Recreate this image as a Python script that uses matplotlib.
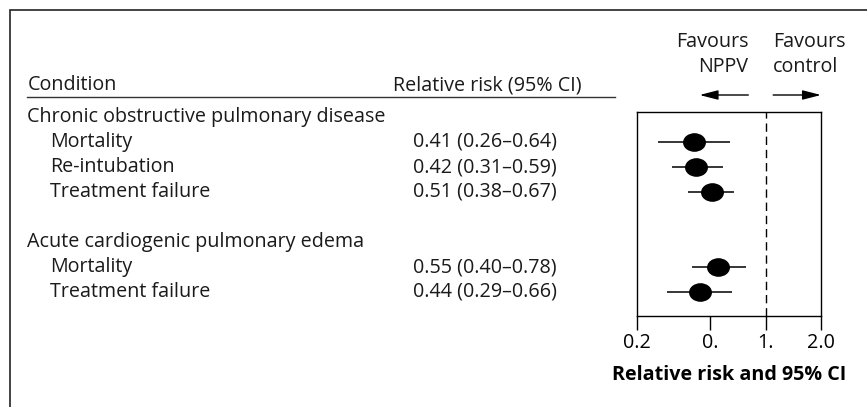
import matplotlib
matplotlib.use('Agg')
import matplotlib.pyplot as plt
import matplotlib.transforms as mtransforms
import numpy as np
from matplotlib.path import Path
from matplotlib.patches import Rectangle

# data
groups = ['Chronic obstructive pulmonary disease', 'Acute cardiogenic pulmonary edema']
outcomes = [['Mortality', 'Re-intubation', 'Treatment failure'],
            ['Mortality', 'Treatment failure']]
rr = [[0.41, 0.42, 0.51], [0.55, 0.44]]
ci_low = [[0.26, 0.31, 0.38], [0.40, 0.29]]
ci_high = [[0.64, 0.59, 0.67], [0.78, 0.66]]
tick_values = [0.2, 0.5, 1.0, 2.0]
tick_labels = ['0.2', '0.', '1.', '2.0']

plt.rcParams['font.family'] = ['Open Sans', 'DejaVu Sans']
plt.rcParams['text.color'] = '#1a1a1a'
FS = 14.2
W, H = 867, 407

fig = plt.figure(figsize=(W / 100, H / 100), dpi=100)
# plot box in pixels: x 637..821, y 112..316
ax = fig.add_axes([637 / W, 1 - 316 / H, (821 - 637) / W, (316 - 112) / H])
ax.set_xscale('log')
ax.set_xlim(0.2, 2.0)
# row units: row 0 at pixel 117, 25 px per row
ax.set_ylim((316 - 117) / 25, (112 - 117) / 25)

# build row positions
rows_y, rows_rr, rows_lo, rows_hi = [], [], [], []
label_rows = []
r = 0
for g, outs, m, lo, hi in zip(groups, outcomes, rr, ci_low, ci_high):
    label_rows.append((r, g, None, 27))
    r += 1
    for o, mv, l, h in zip(outs, m, lo, hi):
        label_rows.append((r, o, '%.2f (%.2f\u2013%.2f)' % (mv, l, h), 50))
        rows_y.append(r)
        rows_rr.append(mv)
        rows_lo.append(l)
        rows_hi.append(h)
        r += 1
    r += 1

rows_y = np.array(rows_y)
ax.hlines(rows_y, rows_lo, rows_hi, color='black', lw=1.1)
circ = Path.unit_circle()
ell = Path(circ.vertices * np.array([1.0, 0.8]), circ.codes)
ax.plot(rows_rr, rows_y, linestyle='none', marker=ell, markersize=15.5,
        color='black')
ax.axvline(1.0, color='black', lw=1.0, dashes=(6, 3.5))

ax.set_xticks(tick_values)
ax.set_xticklabels(tick_labels, fontsize=FS)
ax.xaxis.set_minor_locator(matplotlib.ticker.NullLocator())
ax.set_yticks([])
ax.tick_params(axis='x', direction='out', length=10, width=1.0, pad=2)
for s in ax.spines.values():
    s.set_linewidth(1.0)
ax.set_xlabel('Relative risk and 95% CI', fontsize=FS, fontweight='bold',
              labelpad=9)

# left-hand table text, x in figure fraction, y in row units
trans = mtransforms.blended_transform_factory(fig.transFigure, ax.transData)
for ry, name, ci_txt, xpx in label_rows:
    ax.text(xpx / W, ry, name, transform=trans, fontsize=FS, va='center',
            ha='left', clip_on=False)
    if ci_txt:
        ax.text(413 / W, ry, ci_txt, transform=trans, fontsize=FS,
                va='center', ha='left', clip_on=False)

hdr = (85 - 117) / 25
ax.text(28 / W, hdr, 'Condition', transform=trans, fontsize=FS, va='center',
        clip_on=False)
ax.text(393 / W, hdr, 'Relative risk (95% CI)', transform=trans, fontsize=FS,
        va='center', clip_on=False)
line_y = (97 - 117) / 25
ax.plot([27 / W, 615 / W], [line_y, line_y], transform=trans, color='#333333',
        lw=1.0, clip_on=False)

# favours annotations
ftrans = mtransforms.blended_transform_factory(ax.transAxes, ax.transData)
ax.text(0.605, (42 - 117) / 25, 'Favours', transform=ftrans, fontsize=FS,
        ha='right', va='center', clip_on=False)
ax.text(0.605, (67 - 117) / 25, 'NPPV', transform=ftrans, fontsize=FS,
        ha='right', va='center', clip_on=False)
ax.text(0.74, (42 - 117) / 25, 'Favours', transform=ftrans, fontsize=FS,
        ha='left', va='center', clip_on=False)
ax.text(0.74, (67 - 117) / 25, 'control', transform=ftrans, fontsize=FS,
        ha='left', va='center', clip_on=False)
ay = (95 - 117) / 25
arrow = dict(arrowstyle='-|>,head_length=0.7,head_width=0.18', color='black',
             lw=1.0, mutation_scale=16, shrinkA=0, shrinkB=0)
ax.annotate('', xy=(0.34, ay), xytext=(0.605, ay), xycoords=ftrans,
            textcoords=ftrans, arrowprops=arrow, annotation_clip=False)
ax.annotate('', xy=(1.0, ay), xytext=(0.74, ay), xycoords=ftrans,
            textcoords=ftrans, arrowprops=arrow, annotation_clip=False)

# outer frame, cut by the right and bottom edges
fig.patches.append(Rectangle((10 / W, -0.1), 1.2, 1 - 10 / H + 0.1,
                             transform=fig.transFigure, fill=False,
                             edgecolor='#222222', lw=1.2))

fig.savefig('out.png', dpi=100)
